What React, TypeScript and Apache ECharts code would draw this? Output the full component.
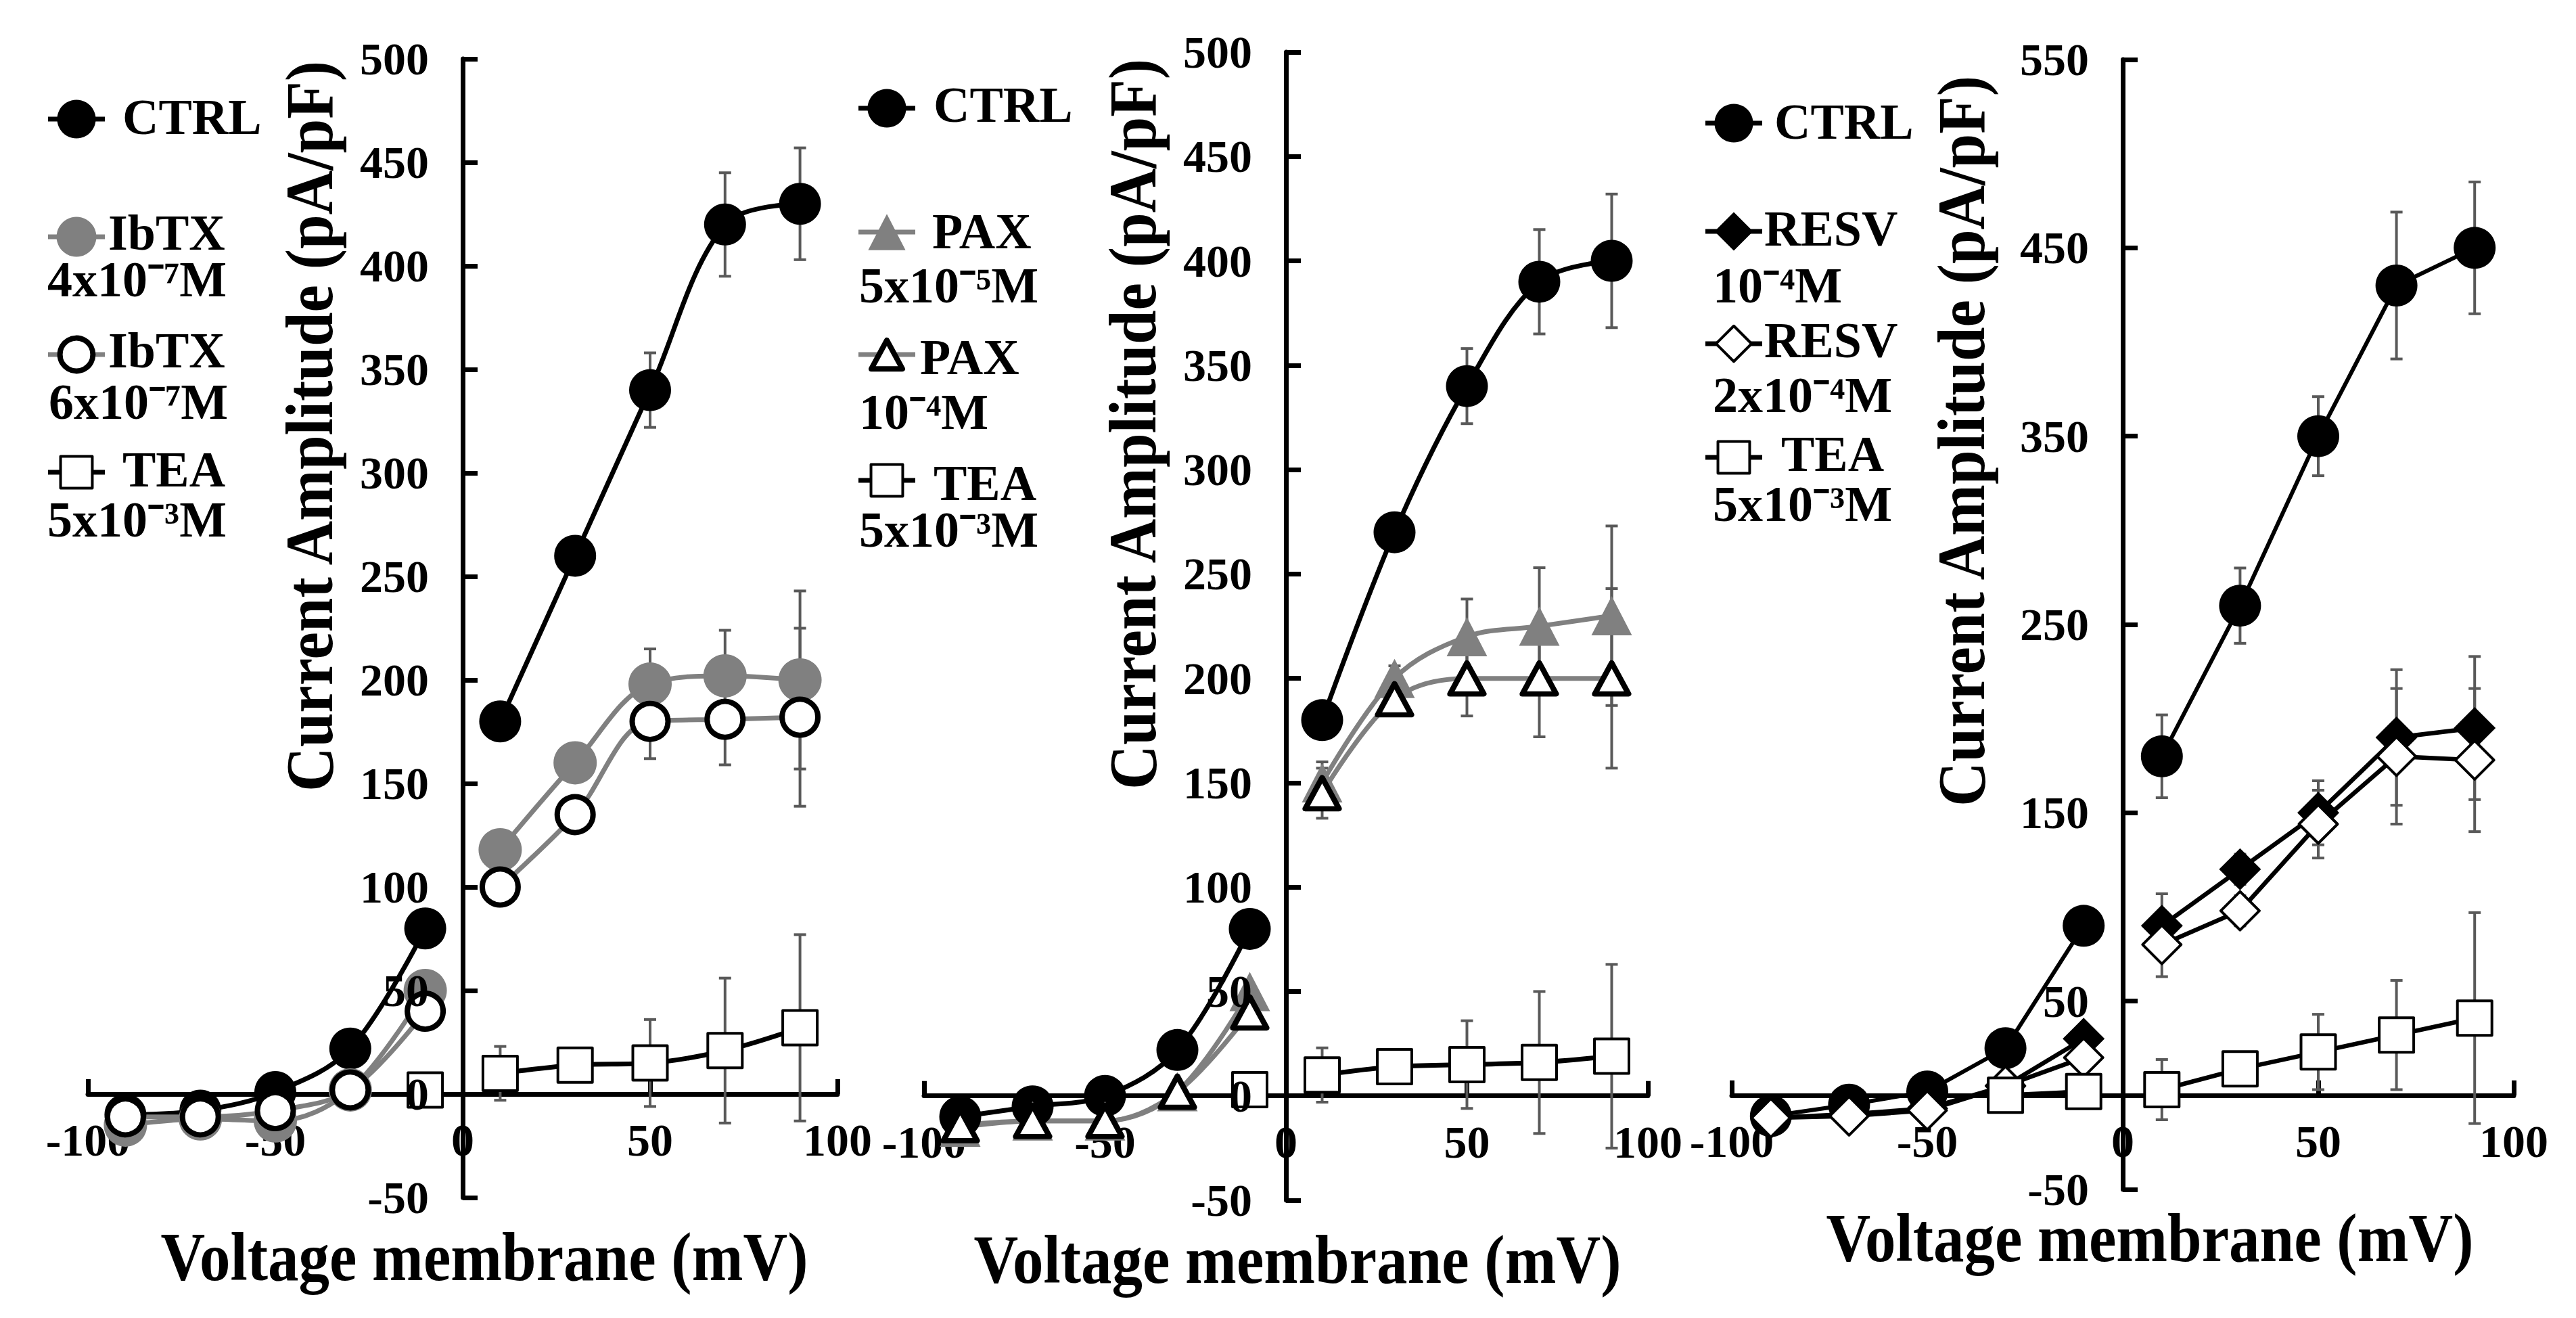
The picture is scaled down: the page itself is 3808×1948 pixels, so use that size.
import React, { useEffect, useRef } from "react";
import * as echarts from "echarts";

// ---------- data ----------
const NEG_V = [-90, -70, -50, -30, -10];
const POS_V = [10, 30, 50, 70, 90];
const X_TICKS = [-100, -50, 0, 50, 100];
const Y_TICKS_500 = [-50, 0, 50, 100, 150, 200, 250, 300, 350, 400, 450, 500];
const Y_TICKS_550 = [-50, 50, 150, 250, 350, 450, 550];

// Panel 1 : CTRL / IbTX / TEA
const P1_CTRL_NEG = [-10, -8, 1, 22, 80];
const P1_CTRL_POS = [180, 260, 340, 420, 430];
const P1_CTRL_ERR = [8, 8, 18, 25, 27];
const P1_IBTX4_NEG = [-15, -12, -13, 2, 50];
const P1_IBTX4_POS = [118, 160, 198, 202, 200];
const P1_IBTX4_ERR = [6, 6, 17, 22, 43];
const P1_IBTX6_NEG = [-11, -11, -8, 2, 40];
const P1_IBTX6_POS = [100, 135, 180, 181, 182];
const P1_IBTX6_ERR = [6, 6, 18, 22, 43];
const P1_TEA_NEG_V = [-10];
const P1_TEA_NEG = [2];
const P1_TEA_POS = [10, 14, 15, 21, 32];
const P1_TEA_ERR = [13, 6, 21, 35, 45];

// Panel 2 : CTRL / PAX / TEA
const P2_CTRL_NEG = [-10, -5, 0, 22, 80];
const P2_CTRL_POS = [180, 270, 340, 390, 400];
const P2_CTRL_ERR = [8, 8, 18, 25, 32];
const P2_PAX5_NEG = [-15, -12, -12, 2, 50];
const P2_PAX5_POS = [150, 200, 220, 225, 230];
const P2_PAX5_ERR = [10, 6, 18, 28, 43];
const P2_PAX4_NEG = [-14, -12, -12, 2, 40];
const P2_PAX4_POS = [145, 190, 200, 200, 200];
const P2_PAX4_ERR = [12, 6, 18, 28, 43];
const P2_TEA_NEG_V = [-10];
const P2_TEA_NEG = [3];
const P2_TEA_POS = [10, 14, 15, 16, 19];
const P2_TEA_ERR = [13, 6, 21, 34, 44];

// Panel 3 : CTRL / RESV / TEA
const P3_CTRL_NEG = [-11, -5, 2, 25, 90];
const P3_CTRL_POS = [180, 260, 350, 430, 450];
const P3_CTRL_ERR = [22, 20, 21, 39, 35];
const P3_RESV4_NEG = [-12, -10, -7, 5, 30];
const P3_RESV4_POS = [90, 120, 150, 190, 195];
const P3_RESV4_ERR = [17, 8, 17, 36, 38];
const P3_RESV2_NEG = [-12, -11, -8, 5, 20];
const P3_RESV2_POS = [80, 98, 144, 180, 178];
const P3_RESV2_ERR = [17, 8, 18, 36, 38];
const P3_TEA_NEG_V = [-30, -10];
const P3_TEA_NEG = [0, 2];
const P3_TEA_POS = [3, 14, 23, 32, 41];
const P3_TEA_ERR = [16, 6, 20, 29, 56];

const X_TITLE = "Voltage membrane (mV)";
const Y_TITLE = "Current Amplitude (pA/pF)";

// ---------- styling ----------
const FONT = '"Liberation Serif", "Times New Roman", Times, serif';
const GRAY = "#808080";
const ERR_COLOR = "#595959";

type Mark = {
  shape: string;
  fill: string;
  stroke: string;
  lw: number;
  size: number | number[];
  line: string;
};

const MARK: Record<string, Mark> = {
  ctrl: { shape: "circle", fill: "#000", stroke: "#000", lw: 0, size: 62, line: "#000" },
  ibtx4: { shape: "circle", fill: GRAY, stroke: GRAY, lw: 0, size: 64, line: GRAY },
  ibtx6: { shape: "circle", fill: "#fff", stroke: "#000", lw: 8, size: 53, line: GRAY },
  tea: { shape: "rect", fill: "#fff", stroke: "#000", lw: 4, size: 51, line: "#000" },
  pax5: { shape: "triangle", fill: GRAY, stroke: GRAY, lw: 0, size: [60, 58], line: GRAY },
  pax4: { shape: "triangle", fill: "#fff", stroke: "#000", lw: 8, size: [50, 46], line: GRAY },
  resv4: { shape: "diamond", fill: "#000", stroke: "#000", lw: 0, size: 62, line: "#000" },
  resv2: { shape: "diamond", fill: "#fff", stroke: "#000", lw: 4, size: 57, line: "#000" },
};

// grid boxes (pixels) and axis ranges
const GRIDS = [
  { left: 130, top: 87, width: 1108, height: 1683 },
  { left: 1366, top: 77, width: 1070, height: 1697 },
  { left: 2560, top: 88, width: 1156, height: 1670 },
];
const X_RANGE = [-100, 100];
const Y_RANGES = [
  [-50, 500],
  [-50, 500],
  [-50, 550],
];

function lineData(negV: number[], neg: number[], pos: number[]) {
  const d: any[] = negV.map((v, i) => [v, neg[i]]);
  d.push([0, "-"]);
  POS_V.forEach((v, i) => d.push([v, pos[i]]));
  return d;
}

function lineSeries(name: string, kind: string, idx: number, data: any[], smooth: number | boolean, width: number) {
  const m = MARK[kind];
  return {
    type: "line",
    name,
    xAxisIndex: idx,
    yAxisIndex: idx,
    data,
    smooth,
    connectNulls: false,
    symbol: m.shape,
    symbolSize: m.size,
    showAllSymbol: true,
    silent: true,
    z: 3,
    lineStyle: { color: m.line, width },
    itemStyle: {
      color: m.fill,
      borderColor: m.stroke,
      borderWidth: m.lw,
      borderJoin: "round",
      opacity: 1,
    },
    emphasis: { disabled: true },
  };
}

function errSeries(idx: number, pos: number[], err: number[]) {
  return {
    type: "custom",
    xAxisIndex: idx,
    yAxisIndex: idx,
    silent: true,
    z: 2,
    data: POS_V.map((v, i) => [v, pos[i], err[i]]),
    encode: { x: 0, y: 1 },
    renderItem: (_p: any, api: any) => {
      const x = api.value(0);
      const y = api.value(1);
      const e = api.value(2);
      const t = api.coord([x, y + e]);
      const b = api.coord([x, y - e]);
      const hw = 9;
      const st = { stroke: ERR_COLOR, lineWidth: 4 };
      return {
        type: "group",
        children: [
          { type: "line", shape: { x1: t[0], y1: t[1], x2: b[0], y2: b[1] }, style: st },
          { type: "line", shape: { x1: t[0] - hw, y1: t[1], x2: t[0] + hw, y2: t[1] }, style: st },
          { type: "line", shape: { x1: b[0] - hw, y1: b[1], x2: b[0] + hw, y2: b[1] }, style: st },
        ],
      };
    },
  };
}

const AXIS_LINE = { color: "#000", width: 7 };
const LABEL = { color: "#000", fontSize: 68, fontWeight: "bold", fontFamily: FONT };

function xAxisCfg(idx: number) {
  const g = GRIDS[idx];
  const [ymin, ymax] = Y_RANGES[idx];
  // shift the axis up from the grid bottom to the y = 0 level
  const off = -(g.height * (0 - ymin)) / (ymax - ymin);
  return {
    type: "value",
    gridIndex: idx,
    position: "bottom",
    offset: off,
    min: X_RANGE[0],
    max: X_RANGE[1],
    interval: 50,
    axisLine: { show: true, onZero: false, lineStyle: AXIS_LINE },
    axisTick: { show: true, inside: true, length: 22, lineStyle: { color: "#000", width: 7 }, customValues: X_TICKS },
    axisLabel: { ...LABEL, margin: 34, customValues: X_TICKS },
    splitLine: { show: false },
  };
}

function yAxisCfg(idx: number, ticks: number[]) {
  const g = GRIDS[idx];
  const [min, max] = Y_RANGES[idx];
  // shift the axis right from the grid left edge to the x = 0 level
  const off = -(g.width * (0 - X_RANGE[0])) / (X_RANGE[1] - X_RANGE[0]);
  return {
    type: "value",
    gridIndex: idx,
    position: "left",
    offset: off,
    z: 5,
    min,
    max,
    interval: 50,
    axisLine: { show: true, onZero: false, lineStyle: AXIS_LINE },
    axisTick: { show: true, inside: true, length: 22, lineStyle: { color: "#000", width: 7 }, customValues: ticks },
    axisLabel: {
      ...LABEL,
      margin: 50,
      customValues: ticks,
      formatter: (v: number) => (ticks.indexOf(v) >= 0 ? String(v) : ""),
    },
    splitLine: { show: false },
  };
}

function txt(text: string, x: number, y: number, size: number, align = "left", extra: any = {}) {
  return {
    type: "text",
    x,
    y,
    silent: true,
    ...extra,
    style: {
      text,
      fontSize: size,
      fontWeight: "bold",
      fontFamily: FONT,
      fill: "#000",
      align,
      textAlign: align,
      verticalAlign: "middle",
      textVerticalAlign: "middle",
    },
  };
}

function markerGraphic(kind: string, cx: number, cy: number) {
  const m = MARK[kind];
  const [w, h] = Array.isArray(m.size) ? m.size : [m.size, m.size];
  const sw = w * 0.92;
  const sh = h * 0.92;
  const style: any = { fill: m.fill, stroke: m.lw ? m.stroke : null, lineWidth: m.lw, lineJoin: "round" };
  const line = {
    type: "line",
    silent: true,
    shape: { x1: cx - 42, y1: cy, x2: cx + 42, y2: cy },
    style: { stroke: m.line, lineWidth: 7 },
  };
  let mk: any;
  if (m.shape === "circle") mk = { type: "circle", shape: { cx, cy, r: sw / 2 }, style };
  else if (m.shape === "rect") mk = { type: "rect", shape: { x: cx - sw / 2, y: cy - sh / 2, width: sw, height: sh }, style };
  else if (m.shape === "triangle")
    mk = { type: "polygon", shape: { points: [[cx, cy - sh / 2], [cx + sw / 2, cy + sh / 2], [cx - sw / 2, cy + sh / 2]] }, style };
  else
    mk = { type: "polygon", shape: { points: [[cx, cy - sh / 2], [cx + sw / 2, cy], [cx, cy + sh / 2], [cx - sw / 2, cy]] }, style };
  mk.silent = true;
  return [line, mk];
}

type LegendItem = { kind: string; cx: number; cy: number; l1: string; x1: number; y1: number; l2?: string; x2?: number; y2?: number };

const LEGENDS: LegendItem[][] = [
  [
    { kind: "ctrl", cx: 113, cy: 176, l1: "CTRL", x1: 181, y1: 173 },
    { kind: "ibtx4", cx: 113, cy: 350, l1: "IbTX", x1: 160, y1: 344, l2: "4x10⁻⁷M", x2: 70, y2: 413 },
    { kind: "ibtx6", cx: 113, cy: 524, l1: "IbTX", x1: 160, y1: 518, l2: "6x10⁻⁷M", x2: 72, y2: 594 },
    { kind: "tea", cx: 113, cy: 698, l1: "TEA", x1: 181, y1: 694, l2: "5x10⁻³M", x2: 70, y2: 768 },
  ],
  [
    { kind: "ctrl", cx: 1311, cy: 160, l1: "CTRL", x1: 1380, y1: 155 },
    { kind: "pax5", cx: 1311, cy: 343, l1: "PAX", x1: 1378, y1: 342, l2: "5x10⁻⁵M", x2: 1270, y2: 422 },
    { kind: "pax4", cx: 1311, cy: 524, l1: "PAX", x1: 1360, y1: 528, l2: "10⁻⁴M", x2: 1270, y2: 609 },
    { kind: "tea", cx: 1311, cy: 710, l1: "TEA", x1: 1380, y1: 714, l2: "5x10⁻³M", x2: 1270, y2: 783 },
  ],
  [
    { kind: "ctrl", cx: 2563, cy: 182, l1: "CTRL", x1: 2623, y1: 180 },
    { kind: "resv4", cx: 2563, cy: 342, l1: "RESV", x1: 2608, y1: 338, l2: "10⁻⁴M", x2: 2532, y2: 422 },
    { kind: "resv2", cx: 2563, cy: 508, l1: "RESV", x1: 2608, y1: 503, l2: "2x10⁻⁴M", x2: 2532, y2: 584 },
    { kind: "tea", cx: 2563, cy: 676, l1: "TEA", x1: 2633, y1: 671, l2: "5x10⁻³M", x2: 2532, y2: 745 },
  ],
];

const Y_TITLE_POS = [
  [458, 630],
  [1675, 627],
  [2900, 652],
];
const X_TITLE_POS = [
  [716, 1858],
  [1918, 1862],
  [3178, 1830],
];

function buildOption() {
  const graphics: any[] = [];
  LEGENDS.forEach((items) =>
    items.forEach((it) => {
      graphics.push(...markerGraphic(it.kind, it.cx, it.cy));
      graphics.push(txt(it.l1, it.x1, it.y1, 74));
      if (it.l2) graphics.push(txt(it.l2, it.x2!, it.y2!, 74));
    })
  );
  Y_TITLE_POS.forEach(([x, y]) =>
    graphics.push(txt(Y_TITLE, x, y, 91, "center", { rotation: Math.PI / 2, scaleY: 1.1 }))
  );
  X_TITLE_POS.forEach(([x, y]) => graphics.push(txt(X_TITLE, x, y, 91, "center", { scaleY: 1.12 })));

  const S = 0.35;
  const series: any[] = [
    // panel 1
    errSeries(0, P1_CTRL_POS, P1_CTRL_ERR),
    errSeries(0, P1_IBTX4_POS, P1_IBTX4_ERR),
    errSeries(0, P1_IBTX6_POS, P1_IBTX6_ERR),
    errSeries(0, P1_TEA_POS, P1_TEA_ERR),
    lineSeries("CTRL", "ctrl", 0, lineData(NEG_V, P1_CTRL_NEG, P1_CTRL_POS), S, 7),
    lineSeries("IbTX 4x10⁻⁷M", "ibtx4", 0, lineData(NEG_V, P1_IBTX4_NEG, P1_IBTX4_POS), S, 7),
    lineSeries("IbTX 6x10⁻⁷M", "ibtx6", 0, lineData(NEG_V, P1_IBTX6_NEG, P1_IBTX6_POS), S, 7),
    lineSeries("TEA 5x10⁻³M", "tea", 0, lineData(P1_TEA_NEG_V, P1_TEA_NEG, P1_TEA_POS), S, 7),
    // panel 2
    errSeries(1, P2_CTRL_POS, P2_CTRL_ERR),
    errSeries(1, P2_PAX5_POS, P2_PAX5_ERR),
    errSeries(1, P2_PAX4_POS, P2_PAX4_ERR),
    errSeries(1, P2_TEA_POS, P2_TEA_ERR),
    lineSeries("CTRL", "ctrl", 1, lineData(NEG_V, P2_CTRL_NEG, P2_CTRL_POS), S, 7),
    lineSeries("PAX 5x10⁻⁵M", "pax5", 1, lineData(NEG_V, P2_PAX5_NEG, P2_PAX5_POS), S, 7),
    lineSeries("PAX 10⁻⁴M", "pax4", 1, lineData(NEG_V, P2_PAX4_NEG, P2_PAX4_POS), S, 7),
    lineSeries("TEA 5x10⁻³M", "tea", 1, lineData(P2_TEA_NEG_V, P2_TEA_NEG, P2_TEA_POS), S, 7),
    // panel 3
    errSeries(2, P3_CTRL_POS, P3_CTRL_ERR),
    errSeries(2, P3_RESV4_POS, P3_RESV4_ERR),
    errSeries(2, P3_RESV2_POS, P3_RESV2_ERR),
    errSeries(2, P3_TEA_POS, P3_TEA_ERR),
    lineSeries("CTRL", "ctrl", 2, lineData(NEG_V, P3_CTRL_NEG, P3_CTRL_POS), false, 6),
    lineSeries("RESV 10⁻⁴M", "resv4", 2, lineData(NEG_V, P3_RESV4_NEG, P3_RESV4_POS), false, 6.5),
    lineSeries("RESV 2x10⁻⁴M", "resv2", 2, lineData(NEG_V, P3_RESV2_NEG, P3_RESV2_POS), false, 6.5),
    lineSeries("TEA 5x10⁻³M", "tea", 2, lineData(P3_TEA_NEG_V, P3_TEA_NEG, P3_TEA_POS), false, 6.5),
  ];

  return {
    animation: false,
    backgroundColor: "#fff",
    grid: GRIDS.map((g) => ({ ...g, containLabel: false, outerBoundsMode: "none" })),
    xAxis: [xAxisCfg(0), xAxisCfg(1), xAxisCfg(2)],
    yAxis: [yAxisCfg(0, Y_TICKS_500), yAxisCfg(1, Y_TICKS_500), yAxisCfg(2, Y_TICKS_550)],
    series,
    graphic: { elements: graphics },
  };
}

export default function App() {
  const ref = useRef<HTMLDivElement>(null);
  useEffect(() => {
    const chart = echarts.init(ref.current as HTMLDivElement, null, { renderer: "svg" });
    chart.setOption(buildOption() as any);
    return () => chart.dispose();
  }, []);
  return (
    <div
      ref={ref}
      style={{ position: "fixed", left: 0, top: 0, width: "3808px", height: "1948px", background: "#fff" }}
    />
  );
}
